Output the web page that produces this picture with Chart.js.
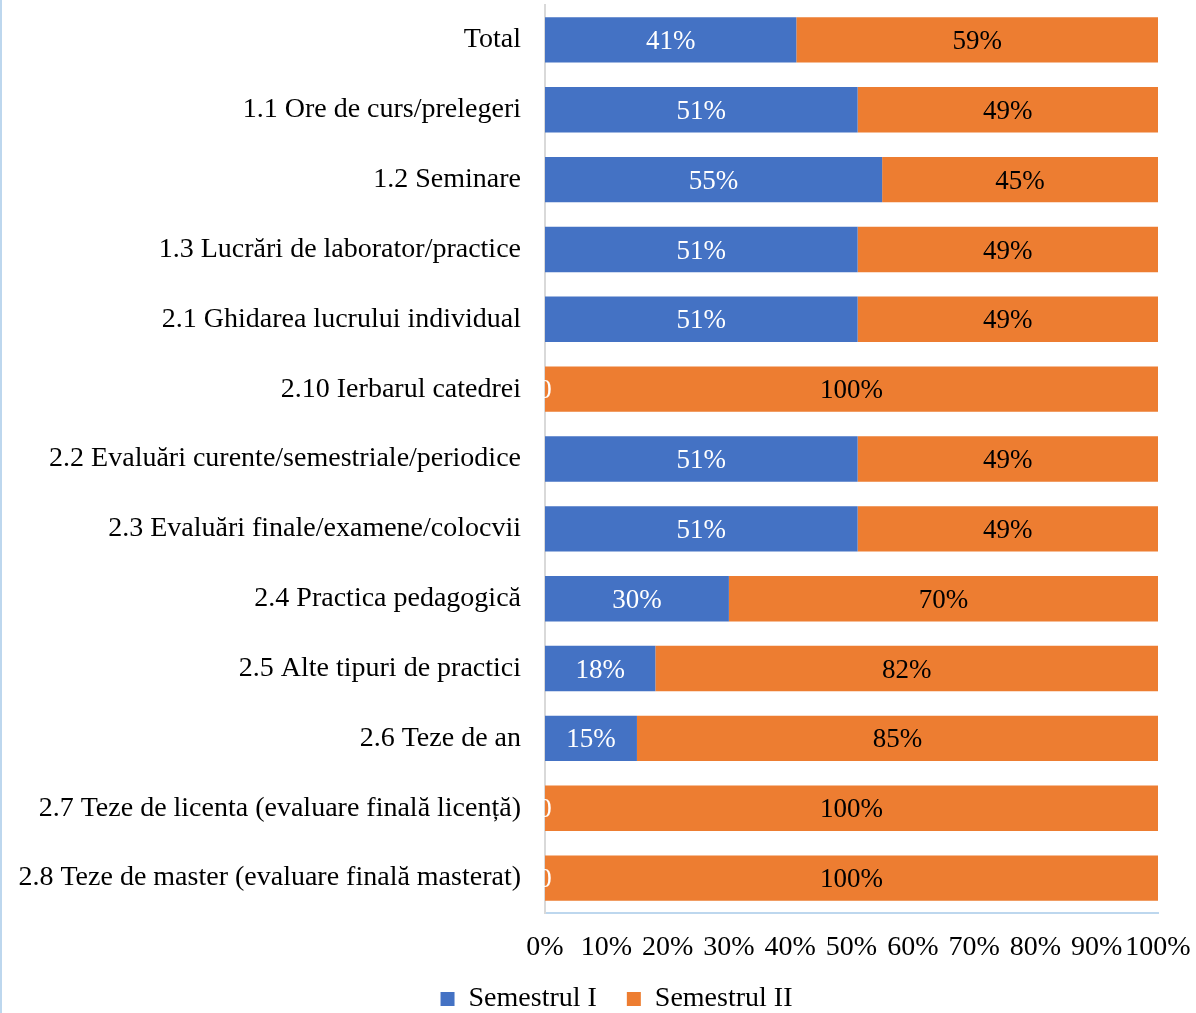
<!DOCTYPE html>
<html>
<head>
<meta charset="utf-8">
<script src="https://cdn.jsdelivr.net/npm/chart.js@4.4.1/dist/chart.umd.min.js"></script>
<style>
  html, body { margin: 0; padding: 0; background: #ffffff; overflow: hidden; }
  #wrap { position: relative; width: 1196px; height: 1013px; }
  #edge { position: absolute; left: 0; top: 0; width: 2px; height: 1013px; background: #BDD7EE; }
  canvas { position: absolute; left: 0; top: 0; }
</style>
</head>
<body>
<div id="wrap">
  <canvas id="c" width="1196" height="1013"></canvas>
  <div id="edge"></div>
</div>
<script>
const categories = [
  "Total",
  "1.1 Ore de curs/prelegeri",
  "1.2 Seminare",
  "1.3 Lucrări de laborator/practice",
  "2.1 Ghidarea lucrului individual",
  "2.10 Ierbarul catedrei",
  "2.2 Evaluări curente/semestriale/periodice",
  "2.3 Evaluări finale/examene/colocvii",
  "2.4 Practica pedagogică",
  "2.5 Alte tipuri de practici",
  "2.6 Teze de an",
  "2.7 Teze de licenta (evaluare finală licență)",
  "2.8 Teze de master (evaluare finală masterat)"
];
const semestrulI  = [41, 51, 55, 51, 51, 0, 51, 51, 30, 18, 15, 0, 0];
const semestrulII = [59, 49, 45, 49, 49, 100, 49, 49, 70, 82, 85, 100, 100];
const seriesNames = ["Semestrul I", "Semestrul II"];
const xTicks = [0, 10, 20, 30, 40, 50, 60, 70, 80, 90, 100];

const FONT = "'Liberation Serif', 'Times New Roman', serif";

const labelPlugin = {
  id: 'segLabels',
  afterDatasetsDraw(chart) {
    const ctx = chart.ctx;
    ctx.save();
    ctx.font = "27px " + FONT;
    ctx.textAlign = 'center';
    ctx.textBaseline = 'middle';
    chart.data.datasets.forEach((ds, di) => {
      const meta = chart.getDatasetMeta(di);
      meta.data.forEach((bar, i) => {
        const v = ds.data[i];
        const cx = (bar.x + bar.base) / 2;
        ctx.fillStyle = di === 0 ? '#ffffff' : '#000000';
        const txt = v === 0 ? '0' : v + '%';
        ctx.fillText(txt, cx, bar.y + 2);
      });
    });
    ctx.restore();
  }
};

// shift the legend box so that it is centred like the reference
const legendShift = {
  id: 'legendShift',
  afterLayout(chart) {
    if (chart.legend) { chart.legend.left = 37; }
  }
};

new Chart(document.getElementById('c'), {
  type: 'bar',
  data: {
    labels: categories,
    datasets: [
      { label: seriesNames[0], data: semestrulI, backgroundColor: '#4472C4', borderWidth: 0 },
      { label: seriesNames[1], data: semestrulII, backgroundColor: '#ED7D31', borderWidth: 0 }
    ]
  },
  options: {
    indexAxis: 'y',
    responsive: false,
    animation: false,
    devicePixelRatio: 1,
    layout: { padding: { left: 0, right: 0, top: 5, bottom: -10 } },
    datasets: { bar: { categoryPercentage: 1, barPercentage: 0.65 } },
    scales: {
      x: {
        stacked: true,
        min: 0, max: 100,
        afterBuildTicks(scale) { scale.ticks = xTicks.map(v => ({ value: v })); },
        grid: { display: false, drawTicks: false },
        border: { display: true, color: '#BDD7EE', width: 2 },
        ticks: {
          color: '#000000',
          font: { family: FONT, size: 28 },
          padding: 18,
          maxRotation: 0,
          autoSkip: false,
          callback: v => v + '%'
        },
        afterFit(scale) {
          scale.height = 42;
          scale.paddingLeft = 0;
          scale.paddingRight = 38;
        }
      },
      y: {
        stacked: true,
        grid: { display: false, drawTicks: false },
        border: { display: true, color: '#D9D9D9', width: 2 },
        ticks: {
          color: '#000000',
          font: { family: FONT, size: 28 },
          padding: 24,
          autoSkip: false
        },
        afterFit(scale) {
          scale.width = 545;
          scale.paddingTop = 0;
          scale.paddingBottom = 0;
        }
      }
    },
    plugins: {
      legend: {
        position: 'bottom',
        labels: {
          color: '#000000',
          font: { family: FONT, size: 28 },
          boxWidth: 14,
          boxHeight: 14,
          padding: 30
        }
      },
      tooltip: { enabled: false }
    }
  },
  plugins: [labelPlugin, legendShift]
});
</script>
</body>
</html>
